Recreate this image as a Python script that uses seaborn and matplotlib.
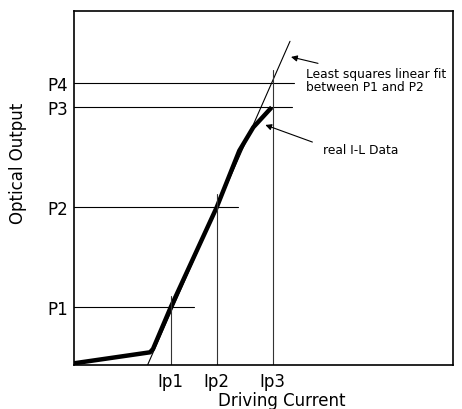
import matplotlib
matplotlib.use("Agg")
import matplotlib.pyplot as plt
import seaborn as sns
import pandas as pd

# Data (in arbitrary units)
curve_x = [0, 76, 79, 96.7, 142.7, 165.3, 179.3, 197.7]
curve_y = [1.7, 12.7, 16, 57.7, 157.7, 214.3, 237.7, 257.7]
fit_x = [73.7, 216]
fit_y = [0.3, 323.7]
p_labels = ["P1", "P2", "P3", "P4"]
p_values = [57.7, 157.7, 257.7, 281.7]
p_line_end = [120.3, 164.3, 217.7, 220]
ip_labels = ["Ip1", "Ip2", "Ip3"]
ip_values = [96.7, 142.7, 198.7]
ip_line_top = [69.3, 171, 295]

sns.set_theme(style="white")
plt.rcParams['font.family'] = ['DejaVu Sans']
plt.rcParams['text.color'] = 'black'
plt.rcParams['axes.labelcolor'] = 'black'
plt.rcParams['xtick.color'] = 'black'
plt.rcParams['ytick.color'] = 'black'

fig = plt.figure(figsize=(4.62, 4.10), dpi=100)
ax = fig.add_axes([74/462, 44/410, 379/462, 354/410])

df_curve = pd.DataFrame({"x": curve_x, "y": curve_y})
df_fit = pd.DataFrame({"x": fit_x, "y": fit_y})
sns.lineplot(data=df_fit, x="x", y="y", ax=ax, color="black", lw=0.8, sort=False)
sns.lineplot(data=df_curve, x="x", y="y", ax=ax, color="black", lw=3.2, sort=False,
             solid_capstyle="butt")

for yv, xe in zip(p_values, p_line_end):
    ax.plot([0, xe], [yv, yv], color="black", lw=0.8)
for xv, yt in zip(ip_values, ip_line_top):
    ax.plot([xv, xv], [0, yt], color="#333333", lw=0.8)

ax.set_xlim(0, 379)
ax.set_ylim(0, 354)
ax.set_yticks(p_values)
ax.set_yticklabels(p_labels, fontsize=12)
ax.set_xticks(ip_values)
ax.set_xticklabels(ip_labels, fontsize=12)
ax.tick_params(axis="both", length=0)
ax.tick_params(axis="y", pad=4)
ax.tick_params(axis="x", pad=5)

for s in ax.spines.values():
    s.set_color("black")
    s.set_linewidth(1.2)

ax.set_xlabel("Driving Current", fontsize=12)
ax.set_ylabel("Optical Output", fontsize=12)
ax.xaxis.set_label_coords(207.7/379, -0.074)
ax.yaxis.set_label_coords(-0.125, 203/354)

ax.annotate("", xy=(214.3, 308.7), xytext=(246.7, 301),
            arrowprops=dict(arrowstyle="-|>", color="black", lw=0.8, mutation_scale=9))
ax.annotate("", xy=(188.7, 241), xytext=(241, 222),
            arrowprops=dict(arrowstyle="-|>", color="black", lw=0.8, mutation_scale=9))
ax.text(232, 285, "Least squares linear fit\nbetween P1 and P2", fontsize=8.8,
        va="center", ha="left", linespacing=0.95)
ax.text(248.7, 216, "real I-L Data", fontsize=8.8, va="center", ha="left")

fig.savefig("out.png", dpi=100)
